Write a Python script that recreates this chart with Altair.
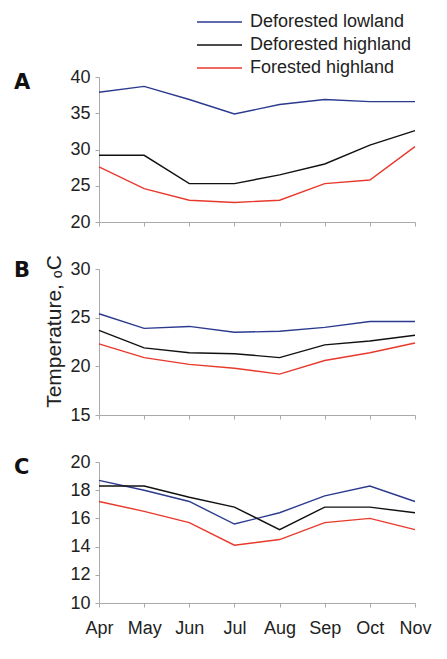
import altair as alt
import pandas as pd

months = ["Apr", "May", "Jun", "Jul", "Aug", "Sep", "Oct", "Nov"]
series_names = ["Deforested lowland", "Deforested highland", "Forested highland"]
series_colors = ["#2b3a8f", "#111111", "#e8392c"]

# Panel A
a_lowland = [37.9, 38.7, 36.9, 34.9, 36.2, 36.9, 36.6, 36.6]
a_def_high = [29.2, 29.2, 25.3, 25.3, 26.5, 28.0, 30.6, 32.6]
a_for_high = [27.6, 24.6, 23.0, 22.7, 23.0, 25.3, 25.8, 30.4]
# Panel B
b_lowland = [25.4, 23.9, 24.1, 23.5, 23.6, 24.0, 24.6, 24.6]
b_def_high = [23.7, 21.9, 21.4, 21.3, 20.9, 22.2, 22.6, 23.2]
b_for_high = [22.3, 20.9, 20.2, 19.8, 19.2, 20.6, 21.4, 22.4]
# Panel C
c_lowland = [18.7, 18.0, 17.2, 15.6, 16.4, 17.6, 18.3, 17.2]
c_def_high = [18.3, 18.3, 17.5, 16.8, 15.2, 16.8, 16.8, 16.4]
c_for_high = [17.2, 16.5, 15.7, 14.1, 14.5, 15.7, 16.0, 15.2]

a_ticks = [20, 25, 30, 35, 40]
b_ticks = [15, 20, 25, 30]
c_ticks = [10, 12, 14, 16, 18, 20]

FONT = "Liberation Sans"

LEGEND = alt.Legend(
    orient="none", legendX=97, legendY=-64, title=None, padding=0,
    symbolType="stroke", symbolSize=2025, symbolStrokeWidth=1.4,
    labelFontSize=18, labelFont=FONT, labelColor="#222222", labelLimit=300,
    labelOffset=7, rowPadding=5, clipHeight=18,
)


def long_df(*cols):
    rows = []
    for name, vals in zip(series_names, cols):
        for m, v in zip(months, vals):
            rows.append({"month": m, "series": name, "temp": v})
    return pd.DataFrame(rows)


def panel(df, domain, ticks, letter, letter_y, height, show_x_labels, y_title=None):
    x_axis = alt.Axis(
        labels=show_x_labels, title=None, labelAngle=0, labelFontSize=18,
        labelPadding=12, tickSize=4, labelFont=FONT, labelColor="#222222",
    )
    y_kwargs = dict(
        values=ticks, tickSize=4, labelFontSize=18, labelPadding=5,
        labelFont=FONT, labelColor="#222222", grid=False,
    )
    if y_title:
        y_kwargs.update(title=y_title, titleFontSize=21, titleFont=FONT,
                        titleFontWeight="normal", titleColor="#222222",
                        titlePadding=5, titleY=62)
    else:
        y_kwargs.update(title=None)
    lines = alt.Chart(df).mark_line(strokeWidth=1.4).encode(
        x=alt.X("month:O", sort=months, scale=alt.Scale(type="point", padding=0), axis=x_axis),
        y=alt.Y("temp:Q", scale=alt.Scale(domain=domain, nice=False, zero=False), axis=alt.Axis(**y_kwargs)),
        color=alt.Color("series:N", scale=alt.Scale(domain=series_names, range=series_colors),
                        sort=series_names, legend=LEGEND),
        detail="series:N",
    )
    lab = alt.Chart(pd.DataFrame({"t": [letter]})).mark_text(
        align="left", baseline="alphabetic", fontSize=21, fontWeight=900,
        font="DejaVu Sans", color="#111111",
    ).encode(x=alt.value(-85), y=alt.value(letter_y), text="t:N")
    return alt.layer(lines, lab).properties(width=316, height=height)


pa = panel(long_df(a_lowland, a_def_high, a_for_high), [20, 40], a_ticks, "A", 12, 145, False)
pb = panel(long_df(b_lowland, b_def_high, b_for_high), [15, 30], b_ticks, "B", 8, 146, False, y_title="Temperature, ₒC")
pc = panel(long_df(c_lowland, c_def_high, c_for_high), [10, 20], c_ticks, "C", 12, 141, True)

chart = alt.vconcat(pa, pb, pc, spacing=47, bounds="flush").properties(
    padding={"top": 5, "left": 6, "right": 5, "bottom": 5},
    background="white",
).configure_view(stroke=None).configure_axis(
    domainColor="#aaaaaa", tickColor="#aaaaaa", domainWidth=1, tickWidth=1,
)

chart.save("out.html", embed_options={"renderer": "svg", "actions": False})
